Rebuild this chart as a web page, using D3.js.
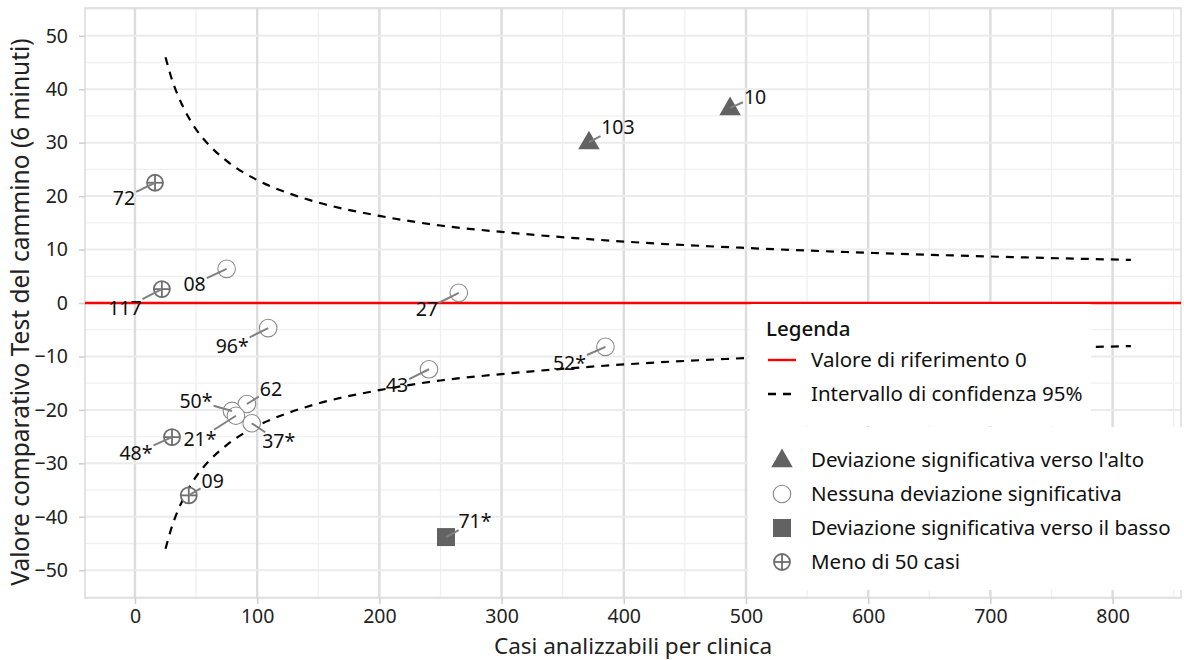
<!DOCTYPE html>
<html><head><meta charset="utf-8">
<script src="https://cdn.jsdelivr.net/npm/d3@7"></script>
<style>
html,body{margin:0;padding:0;background:#fff;}
svg{display:block;font-family:"Noto Sans",sans-serif;}
</style></head>
<body><svg id="chart" width="1184" height="660"></svg>
<script>
// ---- data ----
const clinics = ["72","117","08","96*","27","103","10","52*","43","62","50*","21*","37*","48*","09","71*"];
const cases   = [16.4, 22, 75, 109, 265, 371.5, 487, 385, 240.6, 91.6, 79.4, 82.6, 95.5, 30.3, 44, 254.5];
const values  = [22.5, 2.6, 6.4, -4.7, 1.9, 30.1, 36.5, -8.2, -12.4, -18.9, -20.2, -21.1, -22.5, -25.1, -36, -43.8];
const groups  = ["few","few","none","none","none","up","up","none","none","none","none","none","none","few","few","down"];
// label placement (pixel offsets from point)
const labelDx = [-31,-37,-32,-36,-32,29,25,-36,-32,24,-36,-36,27,-36,24,29];
const labelDy = [15,19,15,18,16,-15,-11,16,16,-15,-10,23,18,16,-14,-16];
// confidence band (upper limit; lower is mirrored)
const ciCases = [25,30,40,50,60,75,100,125,150,200,250,300,400,500,600,700,815];
const ciUpper = [46,42,36.4,32.5,29.7,26.6,23,20.6,18.8,16.3,14.5,13.3,11.5,10.3,9.4,8.7,8.06];
const xTicks = [0,100,200,300,400,500,600,700,800];
const yTicks = [-50,-40,-30,-20,-10,0,10,20,30,40,50];
const legendLines = ["Valore di riferimento 0","Intervallo di confidenza 95%"];
const legendGroups = ["up","none","down","few"];
const legendGroupLabels = ["Deviazione significativa verso l'alto","Nessuna deviazione significativa","Deviazione significativa verso il basso","Meno di 50 casi"];

// ---- layout ----
const svg = d3.select("#chart");
const L = 85, R = 1181, T = 8, B = 598;
const x = d3.scaleLinear().domain([-40.9, 856]).range([L, R]);
const y = d3.scaleLinear().domain([-55.2, 55.2]).range([B, T]);

// grid
const g = svg.append("g");
const minorX = d3.range(-50, 900, 50).filter(v => v % 100 !== 0 && x(v) > L && x(v) < R);
const minorY = d3.range(-55, 60, 5).filter(v => v % 10 !== 0 && y(v) > T && y(v) < B);
g.selectAll(".mx").data(minorX).enter().append("line")
  .attr("x1", d => x(d)).attr("x2", d => x(d)).attr("y1", T).attr("y2", B)
  .attr("stroke", "#f0f0f0").attr("stroke-width", 1.3);
g.selectAll(".my").data(minorY).enter().append("line")
  .attr("y1", d => y(d)).attr("y2", d => y(d)).attr("x1", L).attr("x2", R)
  .attr("stroke", "#f0f0f0").attr("stroke-width", 1.3);
g.selectAll(".Mx").data(xTicks).enter().append("line")
  .attr("x1", d => x(d)).attr("x2", d => x(d)).attr("y1", T).attr("y2", B)
  .attr("stroke", "#dcdcdc").attr("stroke-width", 2.4);
g.selectAll(".My").data(yTicks).enter().append("line")
  .attr("y1", d => y(d)).attr("y2", d => y(d)).attr("x1", L).attr("x2", R)
  .attr("stroke", "#ebebeb").attr("stroke-width", 2);
// panel border
svg.append("rect").attr("x", L).attr("y", T).attr("width", R - L).attr("height", B - T)
  .attr("fill", "none").attr("stroke", "#dcdcdc").attr("stroke-width", 1.6);

// axes
const xAxis = svg.append("g").attr("transform", `translate(0,${B})`)
  .call(d3.axisBottom(x).tickValues(xTicks).tickSize(6).tickPadding(5));
const yAxis = svg.append("g").attr("transform", `translate(${L},0)`)
  .call(d3.axisLeft(y).tickValues(yTicks).tickSize(6).tickPadding(11));
[xAxis, yAxis].forEach(a => {
  a.select(".domain").remove();
  a.selectAll(".tick line").attr("stroke", "#cfcfcf").attr("stroke-width", 1.5);
  a.selectAll(".tick text").attr("fill", "#222").attr("font-size", 19.5)
   .attr("font-family", "'Noto Sans',sans-serif");
});
svg.append("text").attr("x", (L + R) / 2 - 0).attr("y", 654).attr("text-anchor", "middle")
  .attr("font-size", 22.5).attr("fill", "#222").text("Casi analizzabili per clinica");
svg.append("text").attr("transform", `translate(29,312) rotate(-90)`)
  .attr("text-anchor", "middle").attr("font-size", 24.5).attr("fill", "#222")
  .text("Valore comparativo Test del cammino (6 minuti)");

// reference line
svg.append("line").attr("x1", L).attr("x2", R).attr("y1", y(0)).attr("y2", y(0))
  .attr("stroke", "#ff0000").attr("stroke-width", 2.4);

// CI curves
const ciData = ciCases.map((c, i) => ({c, u: ciUpper[i]}));
const lineU = d3.line().x(d => x(d.c)).y(d => y(d.u)).curve(d3.curveMonotoneX);
const lineL = d3.line().x(d => x(d.c)).y(d => y(-d.u)).curve(d3.curveMonotoneX);
[lineU, lineL].forEach(l => svg.append("path").datum(ciData).attr("d", l)
  .attr("fill", "none").attr("stroke", "#000").attr("stroke-width", 2.2)
  .attr("stroke-dasharray", "8,7"));

// markers
function drawMarker(sel, grp, cx, cy) {
  if (grp === "up") {
    const sym = d3.symbol().type(d3.symbolTriangle).size(200);
    sel.append("path").attr("d", sym()).attr("transform", `translate(${cx},${cy + 1})`)
      .attr("fill", "#626262");
  } else if (grp === "down") {
    sel.append("rect").attr("x", cx - 9).attr("y", cy - 9).attr("width", 18).attr("height", 18)
      .attr("fill", "#626262");
  } else if (grp === "none") {
    sel.append("circle").attr("cx", cx).attr("cy", cy).attr("r", 8.8)
      .attr("fill", "#fff").attr("stroke", "#8a8a8a").attr("stroke-width", 1.1);
  } else {
    sel.append("circle").attr("cx", cx).attr("cy", cy).attr("r", 8)
      .attr("fill", "#fff").attr("stroke", "#6e6e6e").attr("stroke-width", 1.8);
    sel.append("line").attr("x1", cx - 8).attr("x2", cx + 8).attr("y1", cy).attr("y2", cy)
      .attr("stroke", "#6e6e6e").attr("stroke-width", 1.8);
    sel.append("line").attr("x1", cx).attr("x2", cx).attr("y1", cy - 8).attr("y2", cy + 8)
      .attr("stroke", "#6e6e6e").attr("stroke-width", 1.8);
  }
}
const pts = svg.append("g");
clinics.forEach((c, i) => drawMarker(pts, groups[i], x(cases[i]), y(values[i])));

// labels with repel segments
const lab = svg.append("g");
clinics.forEach((c, i) => {
  const px = x(cases[i]), py = y(values[i]);
  const lx = px + labelDx[i], ly = py + labelDy[i];
  const t = lab.append("text").attr("x", lx).attr("y", ly).attr("dy", "0.35em")
    .attr("text-anchor", "middle").attr("font-size", 19.5).attr("fill", "#111").text(c);
  const bb = t.node().getBBox();
  const hw = bb.width / 2 + 1, hh = 9;
  const vx = px - lx, vy = py - ly;
  const s = Math.min(hw / Math.abs(vx || 1e-6), hh / Math.abs(vy || 1e-6));
  const ex = lx + vx * s, ey = ly + vy * s;
  lab.insert("line", "text").attr("x1", px).attr("y1", py).attr("x2", ex).attr("y2", ey)
    .attr("stroke", "#808080").attr("stroke-width", 2);
});

// legend 1
const lg1 = svg.append("g");
lg1.append("rect").attr("x", 750).attr("y", 304).attr("width", 341).attr("height", 122).attr("fill", "#fff");
lg1.append("text").attr("x", 766).attr("y", 329).attr("dy", "0.35em").attr("font-size", 20.5)
  .attr("font-weight", 500).attr("fill", "#111").text("Legenda");
legendLines.forEach((t, i) => {
  const yy = 360 + i * 34;
  lg1.append("line").attr("x1", 768).attr("x2", 796).attr("y1", yy).attr("y2", yy)
    .attr("stroke", i === 0 ? "#ff0000" : "#000").attr("stroke-width", 2.4)
    .attr("stroke-dasharray", i === 0 ? null : "8,7");
  lg1.append("text").attr("x", 811).attr("y", yy).attr("dy", "0.35em").attr("font-size", 20.5)
    .attr("fill", "#111").text(t);
});
// legend 2
const lg2 = svg.append("g");
lg2.append("rect").attr("x", 748).attr("y", 427).attr("width", 436).attr("height", 163).attr("fill", "#fff");
legendGroups.forEach((grp, i) => {
  const yy = 460 + i * 34;
  drawMarker(lg2, grp, 782, yy);
  lg2.append("text").attr("x", 811).attr("y", yy).attr("dy", "0.35em").attr("font-size", 20.5)
    .attr("fill", "#111").text(legendGroupLabels[i]);
});
</script></body></html>
